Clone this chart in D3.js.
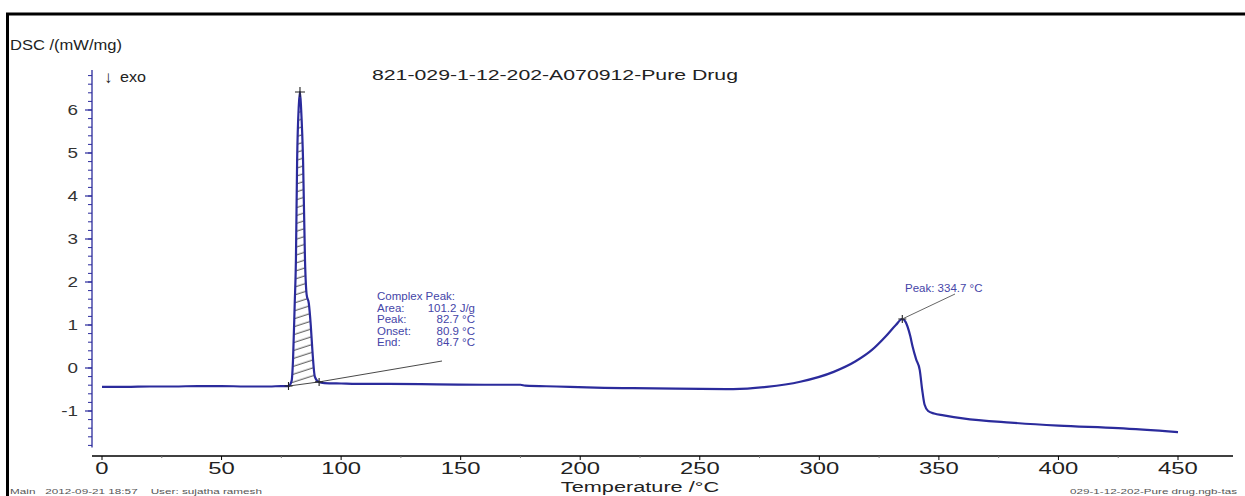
<!DOCTYPE html>
<html><head><meta charset="utf-8">
<script src="https://cdn.jsdelivr.net/npm/d3@7"></script>
<style>
html,body{margin:0;padding:0;background:#fff;}
text{font-family:"Liberation Sans",Arial,sans-serif;}
</style></head>
<body>
<svg id="c" width="1245" height="496"></svg>
<script>
// ---- data ----
const temps = [0, 10, 20, 30, 40, 50, 60, 65, 70, 75, 78, 79.3, 79.9, 80.6, 81.1, 81.6, 82.3, 82.8, 83.3, 84.1, 84.9, 85.6, 86.5, 87.3, 88.0, 89.0, 90.5, 93, 100, 110, 120, 140, 160, 175, 177, 190, 210, 222, 240, 264, 278, 292, 306, 315, 322, 328, 332, 334.7, 336, 338, 339, 340.5, 342, 343, 344, 345.5, 348, 352, 360, 380, 400, 425, 450];
const dsc   = [-0.44, -0.44, -0.43, -0.43, -0.42, -0.42, -0.43, -0.43, -0.43, -0.42, -0.42, -0.3, 0.2, 1.5, 2.5, 4.8, 6.1, 6.42, 6.0, 4.8, 2.5, 1.7, 1.5, 1.0, 0.4, -0.2, -0.32, -0.35, -0.36, -0.37, -0.37, -0.38, -0.39, -0.39, -0.41, -0.43, -0.46, -0.47, -0.48, -0.49, -0.44, -0.32, -0.09, 0.15, 0.42, 0.75, 1.0, 1.14, 1.08, 0.75, 0.5, 0.2, -0.05, -0.5, -0.85, -1.0, -1.06, -1.1, -1.17, -1.27, -1.34, -1.40, -1.49];
const xTicks = [0, 50, 100, 150, 200, 250, 300, 350, 400, 450];
const yTicks = [-1, 0, 1, 2, 3, 4, 5, 6];
const title = "821-029-1-12-202-A070912-Pure Drug";
const yLabel = "DSC /(mW/mg)";
const xLabel = "Temperature /\u00B0C";
const exoArrow = "\u2193";
const exoLabel = "exo";
const peak1 = {onset: 78, end: 90.8, top: 82.8};
const peak1Labels = ["Area:", "Peak:", "Onset:", "End:"];
const peak1Values = ["101.2 J/g", "82.7 \u00B0C", "80.9 \u00B0C", "84.7 \u00B0C"];
const peak1Head = "Complex Peak:";
const peak2 = {t: 334.7, label: "Peak: 334.7 \u00B0C"};
const footerLeft = "Main   2012-09-21 18:57    User: sujatha ramesh";
const footerRight = "029-1-12-202-Pure drug.ngb-tas";

// ---- drawing ----
const svg = d3.select("#c");
function stretch(sel, k){ sel.each(function(){ const w=this.getComputedTextLength(); d3.select(this).attr("textLength", w*k).attr("lengthAdjust","spacingAndGlyphs"); }); return sel; }
function fitTo(sel, len){ return sel.attr("textLength", len).attr("lengthAdjust","spacingAndGlyphs"); }

// frame
svg.append("rect").attr("x",7.5).attr("y",14).attr("width",1260).attr("height",500)
  .attr("fill","none").attr("stroke","#000").attr("stroke-width",3);

const x = d3.scaleLinear().domain([0,450]).range([102,1178]);
const y = d3.scaleLinear().domain([-1,6]).range([411,110]);
const navy = "#2b2b9c";

// y axis
const yAxisG = svg.append("g");
yAxisG.append("line").attr("x1",92).attr("x2",92).attr("y1",y(6.93)).attr("y2",y(-1.85))
  .attr("stroke",navy).attr("stroke-width",1.3);
const yMinor = d3.range(-18, 70, 2).map(v=>v/10);
yAxisG.selectAll("line.mn").data(yMinor).join("line").attr("class","mn")
  .attr("x1",88).attr("x2",92).attr("y1",d=>y(d)).attr("y2",d=>y(d)).attr("stroke",navy).attr("stroke-width",1);
yAxisG.selectAll("line.mj").data(yTicks).join("line").attr("class","mj")
  .attr("x1",85).attr("x2",92).attr("y1",d=>y(d)).attr("y2",d=>y(d)).attr("stroke",navy).attr("stroke-width",1.2);
stretch(yAxisG.selectAll("text").data(yTicks).join("text")
  .attr("x",78).attr("y",d=>y(d)+5).attr("text-anchor","end").attr("font-size",14.5).attr("fill","#333")
  .text(d=>d), 1.3);

// x axis
const xAxisG = svg.append("g");
xAxisG.append("line").attr("x1",92).attr("x2",1233).attr("y1",456).attr("y2",456).attr("stroke","#000").attr("stroke-width",1.3);
xAxisG.selectAll("line.mj").data(xTicks).join("line").attr("class","mj")
  .attr("x1",d=>x(d)).attr("x2",d=>x(d)).attr("y1",456).attr("y2",460).attr("stroke","#000");
xAxisG.selectAll("line.mn").data(d3.range(25,475,50)).join("line").attr("class","mn")
  .attr("x1",d=>x(d)).attr("x2",d=>x(d)).attr("y1",456).attr("y2",458).attr("stroke","#777");
stretch(xAxisG.selectAll("text").data(xTicks).join("text")
  .attr("x",d=>x(d)).attr("y",474).attr("text-anchor","middle").attr("font-size",17).attr("fill","#222")
  .text(d=>d), 1.4);

// labels
fitTo(svg.append("text").attr("x",10).attr("y",50).attr("font-size",14.5).attr("fill","#222").text(yLabel), 112);
fitTo(svg.append("text").attr("x",372).attr("y",80).attr("font-size",14.5).attr("fill","#222").text(title), 366);
svg.append("text").attr("x",104).attr("y",83).attr("font-size",17).attr("fill","#222").text(exoArrow);
fitTo(svg.append("text").attr("x",120).attr("y",82).attr("font-size",14).attr("fill","#222").text(exoLabel), 26);
stretch(svg.append("text").attr("x",640).attr("y",492).attr("text-anchor","middle").attr("font-size",15.5).attr("fill","#222").text(xLabel), 1.4);
fitTo(svg.append("text").attr("x",10).attr("y",494).attr("font-size",6.5).attr("fill","#555").attr("xml:space","preserve").text(footerLeft), 252);
fitTo(svg.append("text").attr("x",1070).attr("y",494).attr("font-size",6.5).attr("fill","#555").text(footerRight), 167);

// data series
const pts = temps.map((t,i)=>[t,dsc[i]]);
const line = d3.line().x(d=>x(d[0])).y(d=>y(d[1])).curve(d3.curveMonotoneX);

// hatched peak area
const defs = svg.append("defs");
const pat = defs.append("pattern").attr("id","hatch").attr("patternUnits","userSpaceOnUse")
  .attr("width",20).attr("height",7.5).attr("patternTransform","rotate(-18)");
pat.append("line").attr("x1",0).attr("x2",20).attr("y1",4).attr("y2",4).attr("stroke","#333").attr("stroke-width",0.9);
const f = d3.scaleLinear().domain(temps).range(dsc);
const basel = t => { const a=f(peak1.onset), b=f(peak1.end); return a+(b-a)*(t-peak1.onset)/(peak1.end-peak1.onset); };
const peakPts = [[peak1.onset, f(peak1.onset)]].concat(pts.filter(p=>p[0]>peak1.onset && p[0]<peak1.end)).concat([[peak1.end, f(peak1.end)]]);
const areaGen = d3.area().x(d=>x(d[0])).y0(d=>y(basel(d[0]))).y1(d=>y(d[1])).curve(d3.curveMonotoneX);
svg.append("path").datum(peakPts).attr("d",areaGen).attr("fill","url(#hatch)");
svg.append("line").attr("x1",x(peak1.onset)).attr("y1",y(f(peak1.onset))).attr("x2",x(peak1.end)).attr("y2",y(f(peak1.end)))
  .attr("stroke","#333").attr("stroke-width",0.9);

svg.append("path").datum(pts).attr("d",line).attr("fill","none").attr("stroke",navy).attr("stroke-width",2.2).attr("stroke-linejoin","round");

// markers
function cross(t,v,s){
  svg.append("path").attr("d",`M${x(t)-s},${y(v)}h${2*s}M${x(t)},${y(v)-s}v${2*s}`).attr("stroke","#222").attr("stroke-width",1.1);
}
cross(peak1.top, f(peak1.top), 5);
cross(peak1.onset, f(peak1.onset), 4);
cross(peak1.end, f(peak1.end), 4);
cross(peak2.t, f(peak2.t), 4);

// annotation 1
const annoColor = "#4545a8";
svg.append("line").attr("x1",x(peak1.end)).attr("y1",y(f(peak1.end))).attr("x2",442).attr("y2",361).attr("stroke","#333").attr("stroke-width",0.9);
svg.append("text").attr("x",377).attr("y",300).attr("font-size",11.5).attr("fill",annoColor).text(peak1Head);
const rows = svg.append("g");
rows.selectAll("text.l").data(peak1Labels).join("text").attr("class","l")
  .attr("x",377).attr("y",(d,i)=>312+i*11.3).attr("font-size",11.5).attr("fill",annoColor).text(d=>d);
rows.selectAll("text.v").data(peak1Values).join("text").attr("class","v")
  .attr("x",475).attr("y",(d,i)=>312+i*11.3).attr("text-anchor","end").attr("font-size",11.5).attr("fill",annoColor).text(d=>d);

// annotation 2
svg.append("line").attr("x1",x(peak2.t)).attr("y1",y(f(peak2.t))).attr("x2",955).attr("y2",294).attr("stroke","#555").attr("stroke-width",0.9);
svg.append("text").attr("x",905).attr("y",292).attr("font-size",11.5).attr("fill",annoColor).text(peak2.label);
</script>
</body></html>
